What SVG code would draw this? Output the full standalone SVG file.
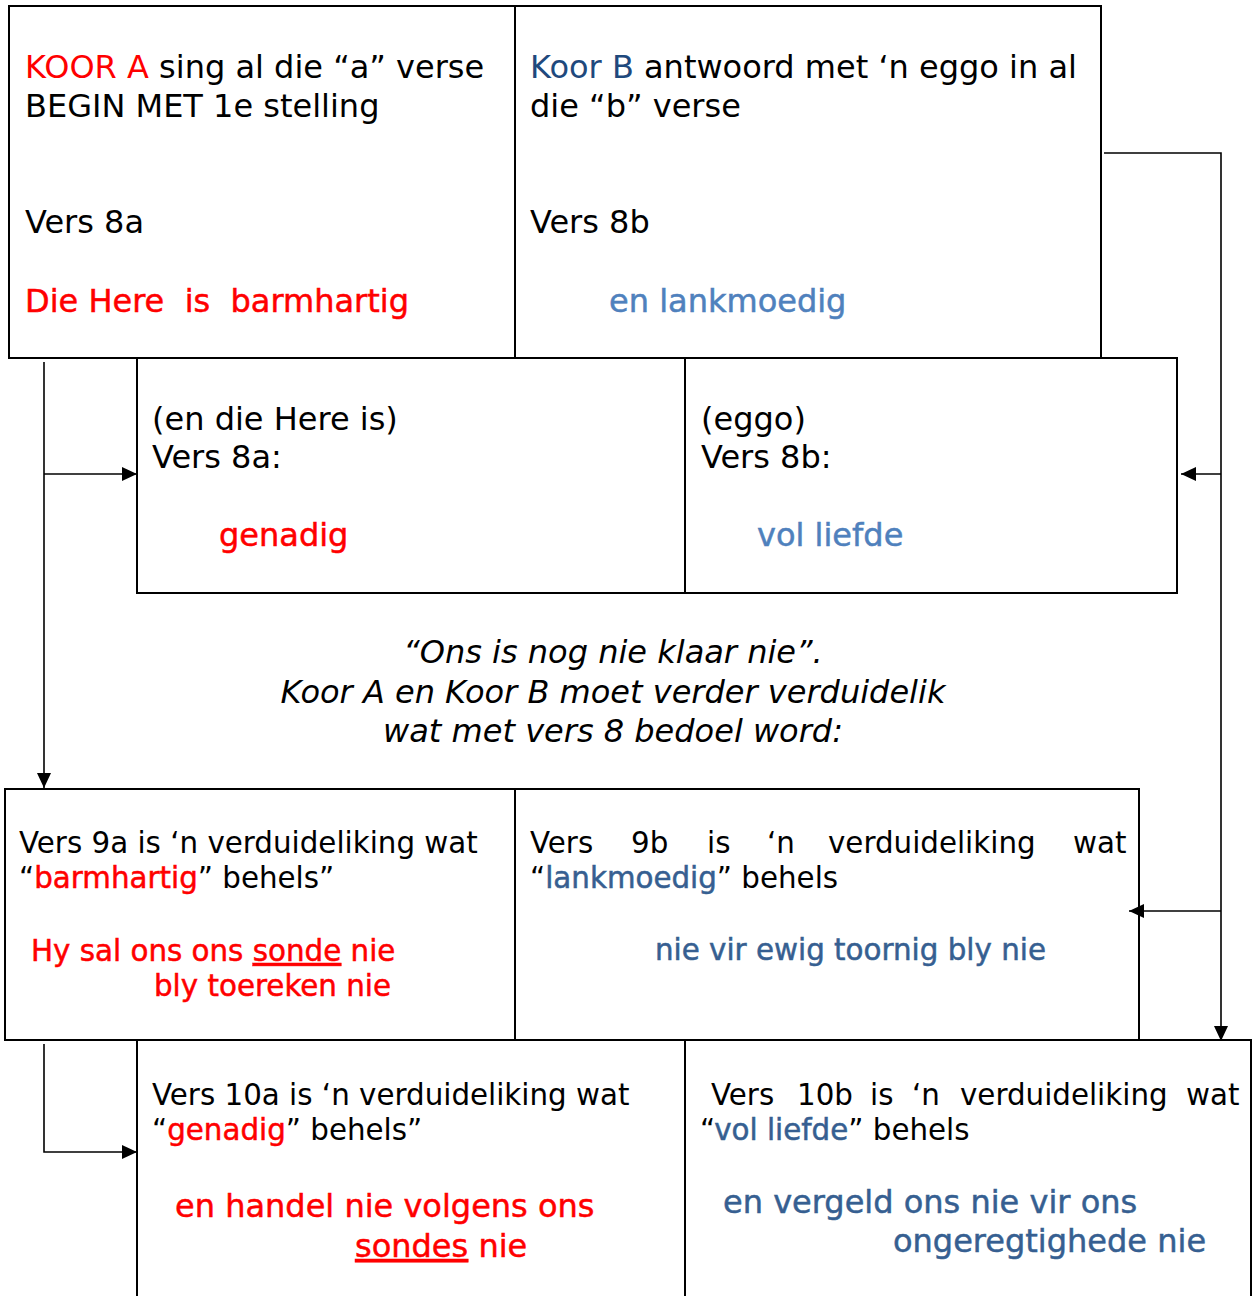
<svg xmlns="http://www.w3.org/2000/svg" width="1253" height="1296" viewBox="0 0 1253 1296">
<style>
  text { font-family: "DejaVu Sans", Verdana, sans-serif; fill: #000; }
  .f24 { font-size: 32px; }
  .f22 { font-size: 29.33px; }
  .box { fill: #fff; stroke: #000; stroke-width: 2; }
  .red { fill: #FF0000; }
  .redb { fill: #FF0000; stroke: #FF0000; stroke-width: 0.5; }
  .dkblue { fill: #1F497D; }
  .ltblueb { fill: #4F81BD; stroke: #4F81BD; stroke-width: 0.5; }
  .mblueb { fill: #365F91; stroke: #365F91; stroke-width: 0.5; }
  .conn { fill: none; stroke: #000; stroke-width: 1.6; }
  .it { font-style: italic; }
</style>
<defs>
  <marker id="arr" markerUnits="userSpaceOnUse" markerWidth="16" markerHeight="16" viewBox="0 0 16 16" refX="15" refY="8" orient="auto">
    <path d="M0,1 L15,8 L0,15 Z" fill="#000"/>
  </marker>
</defs>

<g id="node-koor-a">
  <rect class="box" x="9" y="6" width="506" height="352"/>
  <text class="f24" x="25" y="78"><tspan class="red">KOOR A</tspan> sing al die “a” verse</text>
  <text class="f24" x="25" y="117">BEGIN MET 1e stelling</text>
  <text class="f24" x="25" y="233">Vers 8a</text>
  <text class="f24 redb" x="25" y="312" xml:space="preserve">Die Here  is  barmhartig</text>
</g>

<g id="node-koor-b">
  <rect class="box" x="515" y="6" width="586" height="352"/>
  <text class="f24" x="530" y="78"><tspan class="dkblue">Koor B</tspan> antwoord met ‘n eggo in al</text>
  <text class="f24" x="530" y="117">die “b” verse</text>
  <text class="f24" x="530" y="233">Vers 8b</text>
  <text class="f24 ltblueb" x="609" y="312">en lankmoedig</text>
</g>

<g id="node-8a">
  <rect class="box" x="137" y="358" width="548" height="235"/>
  <text class="f24" x="152" y="430">(en die Here is)</text>
  <text class="f24" x="152" y="468">Vers 8a:</text>
  <text class="f24 redb" x="219" y="546">genadig</text>
</g>

<g id="node-8b">
  <rect class="box" x="685" y="358" width="492" height="235"/>
  <text class="f24" x="701" y="430">(eggo)</text>
  <text class="f24" x="701" y="468">Vers 8b:</text>
  <text class="f24 ltblueb" x="757" y="546">vol liefde</text>
</g>

<g id="note">
  <text class="f24 it" x="613" y="663" text-anchor="middle">“Ons is nog nie klaar nie”.</text>
  <text class="f24 it" x="613" y="703" text-anchor="middle">Koor A en Koor B moet verder verduidelik</text>
  <text class="f24 it" x="613" y="742" text-anchor="middle">wat met vers 8 bedoel word:</text>
</g>

<g id="node-9a">
  <rect class="box" x="5" y="789" width="510" height="251"/>
  <text class="f22" x="19" y="853">Vers 9a is ‘n verduideliking wat</text>
  <text class="f22" x="19" y="888">“<tspan class="redb">barmhartig</tspan>” behels”</text>
  <text class="f22 redb" x="31" y="961">Hy sal ons ons <tspan text-decoration="underline">sonde</tspan> nie</text>
  <text class="f22 redb" x="154" y="996">bly toereken nie</text>
</g>

<g id="node-9b">
  <rect class="box" x="515" y="789" width="624" height="251"/>
  <text class="f22" y="853"><tspan x="530">Vers</tspan><tspan x="631">9b</tspan><tspan x="707">is</tspan><tspan x="767">‘n</tspan><tspan x="828">verduideliking</tspan><tspan x="1073">wat</tspan></text>
  <text class="f22" x="530" y="888">“<tspan class="mblueb">lankmoedig</tspan>” behels</text>
  <text class="f22 mblueb" x="655" y="960">nie vir ewig toornig bly nie</text>
</g>

<g id="node-10a">
  <rect class="box" x="137" y="1040" width="548" height="270"/>
  <text class="f22" x="152" y="1105">Vers 10a is ‘n verduideliking wat</text>
  <text class="f22" x="152" y="1140">“<tspan class="redb">genadig</tspan>” behels”</text>
  <text class="f24 redb" x="175" y="1217">en handel nie volgens ons</text>
  <text class="f24 redb" x="355" y="1257"><tspan text-decoration="underline">sondes</tspan> nie</text>
</g>

<g id="node-10b">
  <rect class="box" x="685" y="1040" width="566" height="270"/>
  <text class="f22" y="1105"><tspan x="711">Vers</tspan><tspan x="797">10b</tspan><tspan x="870">is</tspan><tspan x="912">‘n</tspan><tspan x="960">verduideliking</tspan><tspan x="1186">wat</tspan></text>
  <text class="f22" x="700" y="1140">“<tspan class="mblueb">vol liefde</tspan>” behels</text>
  <text class="f24 mblueb" x="723" y="1213">en vergeld ons nie vir ons</text>
  <text class="f24 mblueb" x="893" y="1252">ongeregtighede nie</text>
</g>

<g id="connectors">
  <path class="conn" d="M44,362 V788" marker-end="url(#arr)"/>
  <path class="conn" d="M44,474 H137" marker-end="url(#arr)"/>
  <path class="conn" d="M44,1044 V1152 H137" marker-end="url(#arr)"/>
  <path class="conn" d="M1104,153 H1221 V1041" marker-end="url(#arr)"/>
  <path class="conn" d="M1221,474 H1181" marker-end="url(#arr)"/>
  <path class="conn" d="M1221,911 H1129" marker-end="url(#arr)"/>
</g>
</svg>
